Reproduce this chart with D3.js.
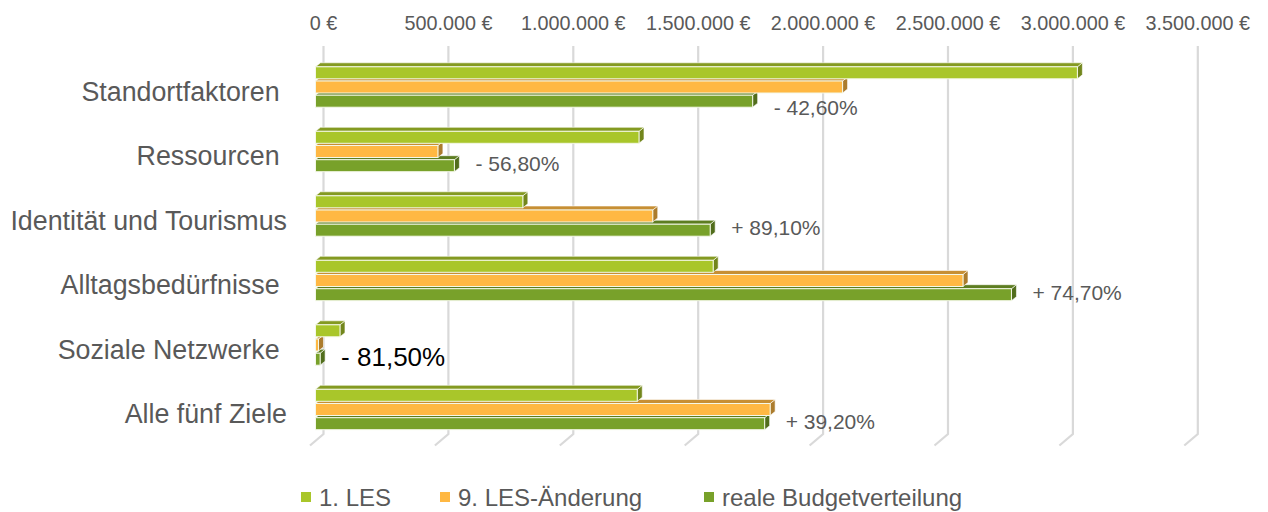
<!DOCTYPE html>
<html lang="de">
<head>
<meta charset="utf-8">
<script src="https://cdn.jsdelivr.net/npm/d3@7"></script>
<style>
  body { margin: 0; background: #fff; }
  svg text { font-family: "Liberation Sans", Arial, sans-serif; white-space: pre; }
</style>
</head>
<body>
<div id="chart"></div>
<script>
// categories (trailing blanks as in the original labels)
var categories = ["Standortfaktoren ", "Ressourcen ", "Identität und Tourismus", "Alltagsbedürfnisse ", "Soziale Netzwerke ", "Alle fünf Ziele"];
var seriesNames = ["1. LES", "9. LES-Änderung", "reale Budgetverteilung"];
var les1 = [3050000, 1295000, 830000, 1592000, 98000, 1288000];
var les9 = [2110000, 490000, 1350000, 2592000, 12000, 1820000];
var reale = [1750000, 556000, 1580000, 2786000, 18500, 1798000];
var changeLabels = ["- 42,60%", "- 56,80%", "+ 89,10%", "+ 74,70%", "- 81,50%", "+ 39,20%"];
var tickValues = [0, 500000, 1000000, 1500000, 2000000, 2500000, 3000000, 3500000];
var seriesColors = ["#a9c62a", "#ffb843", "#78a12a"];

var width = 1268, height = 512;
var svg = d3.select("#chart").append("svg")
    .attr("width", width)
    .attr("height", height);

// front plane of the bars and back wall (gridlines)
var x = d3.scaleLinear().domain([0, 3500000]).range([315.5, 315.5 + 7 * 124.9]);
var wallDx = 8;          // back wall offset to the right
var depth = {dx: 5, dy: -4};  // bar depth
var gridTop = 46, gridBottom = 434, floorDx = -13.5, floorDy = 11.5;

var y = d3.scaleBand().domain(categories).range([54.75, 441.75]).paddingInner(0);
var yInner = d3.scaleBand().domain(seriesNames).range([12.05, 52.45]).paddingInner(0.155);

var locale = d3.formatLocale({decimal: ",", thousands: ".", grouping: [3], currency: ["", " €"]});
var fmt = locale.format(",.0f");

// gridlines on the back wall + floor edge
svg.append("g")
  .selectAll("path")
  .data(tickValues)
  .enter()
  .append("path")
  .attr("d", function(d) {
    var gx = x(d) + wallDx;
    return "M" + gx + "," + gridTop + "V" + gridBottom + "L" + (gx + floorDx) + "," + (gridBottom + floorDy);
  })
  .attr("fill", "none")
  .attr("stroke", "#d9d9d9")
  .attr("stroke-width", 2.2);

// top axis labels
svg.append("g")
  .selectAll("text")
  .data(tickValues)
  .enter()
  .append("text")
  .attr("x", function(d) { return x(d) + wallDx; })
  .attr("y", 30)
  .attr("text-anchor", "middle")
  .attr("font-size", "19.8px")
  .attr("fill", "#595959")
  .text(function(d) { return fmt(d) + " €"; });

// category labels
svg.append("g")
  .selectAll("text")
  .data(categories)
  .enter()
  .append("text")
  .attr("x", 287)
  .attr("y", function(d) { return y(d) + y.bandwidth() / 2 + 13.5; })
  .attr("text-anchor", "end")
  .attr("font-size", "26.8px")
  .attr("fill", "#595959")
  .text(function(d) { return d; });

// bars, drawn bottom-up so upper bars cover lower top faces
var values = [les1, les9, reale];
var bars = [];
for (var c = categories.length - 1; c >= 0; c--) {
  for (var s = seriesNames.length - 1; s >= 0; s--) {
    bars.push({cat: categories[c], series: seriesNames[s], si: s, value: values[s][c]});
  }
}

var barG = svg.append("g").selectAll("g")
  .data(bars)
  .enter()
  .append("g");

barG.each(function(d) {
  var g = d3.select(this);
  var x0 = x(0), x1 = x(d.value);
  var yt = y(d.cat) + yInner(d.series), h = yInner.bandwidth();
  var col = d3.color(seriesColors[d.si]);
  var dx = depth.dx, dy = depth.dy;
  // side face
  g.append("path")
    .attr("d", "M" + x1 + "," + yt + "L" + (x1 + dx) + "," + (yt + dy) + "L" + (x1 + dx) + "," + (yt + h + dy) + "L" + x1 + "," + (yt + h) + "Z")
    .attr("fill", col.darker(1.1))
    .attr("stroke", "#fff").attr("stroke-width", 0.6);
  // top face
  g.append("path")
    .attr("d", "M" + x0 + "," + yt + "L" + (x0 + dx) + "," + (yt + dy) + "L" + (x1 + dx) + "," + (yt + dy) + "L" + x1 + "," + yt + "Z")
    .attr("fill", col.darker(0.7))
    .attr("stroke", "#fff").attr("stroke-width", 0.6);
  // front face
  g.append("rect")
    .attr("x", x0)
    .attr("y", yt)
    .attr("width", Math.max(0, x1 - x0))
    .attr("height", h)
    .attr("fill", col)
    .attr("stroke", "#f4f8e8")
    .attr("stroke-width", 1);
});

// change labels next to the real budget bar
svg.append("g")
  .selectAll("text")
  .data(categories)
  .enter()
  .append("text")
  .attr("x", function(d, i) { return x(reale[i]) + 21; })
  .attr("y", function(d, i) {
    var cy = y(d) + yInner(seriesNames[2]) + yInner.bandwidth() / 2;
    if (i === 0) return cy + 14;
    if (i === 4) return cy + 7;
    return cy + 5;
  })
  .attr("font-size", function(d, i) { return i === 4 ? "26px" : "21px"; })
  .attr("fill", function(d, i) { return i === 4 ? "#000" : "#595959"; })
  .text(function(d, i) { return changeLabels[i]; });

// legend
var legendX = [301, 440, 704];
var legend = svg.append("g")
  .selectAll("g")
  .data(seriesNames)
  .enter()
  .append("g")
  .attr("transform", function(d, i) { return "translate(" + legendX[i] + ",0)"; });

legend.append("rect")
  .attr("x", 0)
  .attr("y", 492)
  .attr("width", 10)
  .attr("height", 10)
  .attr("fill", function(d, i) { return seriesColors[i]; });

legend.append("text")
  .attr("x", 18)
  .attr("y", 506)
  .attr("font-size", "24px")
  .attr("fill", "#595959")
  .text(function(d) { return d; });
</script>
</body>
</html>
